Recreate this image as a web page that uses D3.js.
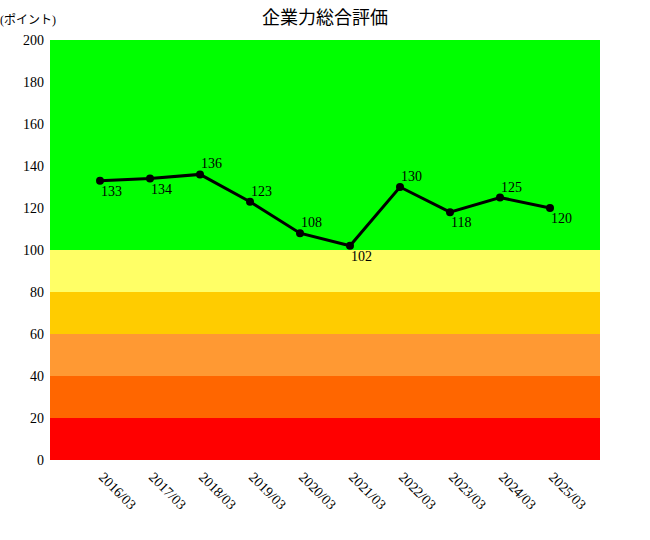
<!DOCTYPE html>
<html><head><meta charset="utf-8">
<script src="https://cdn.jsdelivr.net/npm/d3@7"></script>
<style>body{margin:0;background:#fff}text{font-family:"Liberation Serif","Noto Sans CJK JP",serif}</style>
</head><body><div id="chart"></div>
<script>
const periods = ["2016/03","2017/03","2018/03","2019/03","2020/03","2021/03","2022/03","2023/03","2024/03","2025/03"];
const scores = [133,134,136,123,108,102,130,118,125,120];
// label above (-1) or below (1) the point
const labelSide = [1,1,-1,-1,-1,1,-1,1,-1,1];
const bandEdges = [0,20,40,60,80,100,200];
const bandColors = ["#ff0000","#ff6600","#ff9933","#ffcc00","#ffff66","#00ff00"];
const yTicks = [0,20,40,60,80,100,120,140,160,180,200];

const svg = d3.select("#chart").append("svg").attr("width",650).attr("height",540);
const x = d3.scaleLinear().domain([-1,periods.length]).range([50,600]);
const y = d3.scaleLinear().domain([0,200]).range([460,40]);

svg.append("text").attr("x",325).attr("y",24).attr("text-anchor","middle")
  .attr("font-size",18).text("企業力総合評価");
svg.append("text").attr("x",0).attr("y",24).attr("font-size",12).text("(ポイント)");

svg.selectAll("rect.band").data(bandColors).enter().append("rect")
  .attr("x",50).attr("width",550)
  .attr("y",(d,i)=>y(bandEdges[i+1]))
  .attr("height",(d,i)=>y(bandEdges[i])-y(bandEdges[i+1]))
  .attr("fill",d=>d);

svg.selectAll("text.yt").data(yTicks).enter().append("text")
  .attr("x",44).attr("y",d=>y(d)+5).attr("text-anchor","end").attr("font-size",14).text(d=>d);

svg.selectAll("text.xt").data(periods).enter().append("text")
  .attr("font-size",14)
  .attr("transform",(d,i)=>"translate("+(x(i)-2)+",478) rotate(45)")
  .text(d=>d);

svg.append("path").datum(scores)
  .attr("fill","none").attr("stroke","#000").attr("stroke-width",3)
  .attr("d",d3.line().x((d,i)=>x(i)).y(d=>y(d)));

svg.selectAll("circle").data(scores).enter().append("circle")
  .attr("cx",(d,i)=>x(i)).attr("cy",d=>y(d)).attr("r",4).attr("fill","#000");

svg.selectAll("text.lb").data(scores).enter().append("text")
  .attr("font-size",14)
  .attr("x",(d,i)=>x(i)+1)
  .attr("y",(d,i)=>y(d)+(labelSide[i]>0?15:-6))
  .text(d=>d);
</script></body></html>
